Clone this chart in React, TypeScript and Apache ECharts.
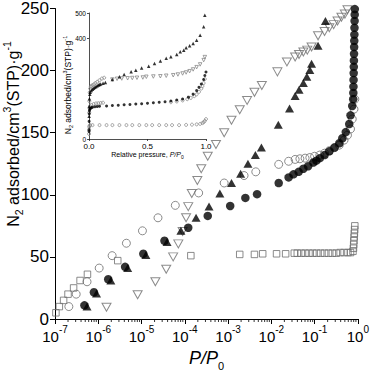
import React, { useEffect, useRef } from "react";
import * as echarts from "echarts";

// ---------- main chart data (P/P0, N2 adsorbed) ----------
const sqP = [1.05e-7, 1.26e-7, 1.58e-7, 2.0e-7, 2.69e-7, 3.8e-7, 5.62e-7, 2.82e-6, 1.38e-4, 1.86e-3, 4.07e-3, 6.31e-3, 0.0132, 0.0214, 0.0339, 0.0398, 0.049, 0.0603, 0.0741, 0.0912, 0.112, 0.138, 0.17, 0.209, 0.257, 0.316, 0.389, 0.479, 0.589, 0.676, 0.77, 0.79, 0.8, 0.81, 0.82, 0.83, 0.84, 0.85];
const sqV = [5, 10, 15, 20, 25, 31, 36, 47, 51, 52, 52, 52.5, 52.5, 52.5, 53, 53, 53, 53, 53, 53, 53, 53, 53, 53, 53, 53, 53.5, 53.5, 53.5, 53.5, 54.5, 57, 60, 63, 66, 69, 72, 75];

const ocP = [2.09e-7, 3.09e-7, 5.5e-7, 1.05e-6, 2.09e-6, 4.47e-6, 1.05e-5, 2.4e-5, 6.03e-5, 2.09e-4, 8.13e-4, 2.34e-3, 4.37e-3, 0.0148, 0.0251, 0.0355, 0.0457, 0.0603, 0.0776, 0.1, 0.132, 0.17, 0.219, 0.288, 0.372, 0.479, 0.575, 0.676, 0.741, 0.813, 0.851];
const ocV = [10, 20, 30, 41, 51, 61, 71, 81.5, 91.5, 101.5, 109.5, 115.5, 118.5, 124.5, 127, 128.5, 129, 129.5, 130, 131, 132, 133.5, 135.5, 138, 140, 144, 148, 153, 161, 169, 177];

const dtP = [1.55e-6, 8.13e-6, 2.09e-5, 3.72e-5, 5.37e-5, 7.08e-5, 8.91e-5, 1.07e-4, 1.2e-4, 1.45e-4, 1.95e-4, 2.4e-4, 3.39e-4, 5.25e-4, 8.13e-4, 1.2e-3, 1.86e-3, 2.75e-3, 4.07e-3, 6.03e-3, 0.0138, 0.0229, 0.0355, 0.0437, 0.055, 0.0676, 0.0851, 0.12, 0.17, 0.219, 0.275, 0.339, 0.417, 0.501, 0.575];
const dtV = [9.5, 19.5, 30, 40, 50, 60.5, 70.5, 81.5, 90.5, 101, 111.5, 121, 131, 140.5, 150, 160, 168.5, 176, 182.5, 188, 199, 207, 211, 213, 215, 216.5, 219, 228, 231.5, 234.5, 237, 240, 243, 245.5, 249];

const ftP = [5.5e-7, 9.12e-7, 1.95e-6, 4.79e-6, 1.26e-5, 3.89e-5, 8.13e-5, 1.82e-4, 3.63e-4, 6.46e-4, 1.2e-3, 1.95e-3, 2.88e-3, 4.27e-3, 5.89e-3, 0.0145, 0.0263, 0.0355, 0.0437, 0.055, 0.0661, 0.0776, 0.0851, 0.12, 0.178];
const ftV = [10, 20.5, 31, 41, 51.5, 62, 71, 81.5, 90.5, 101, 109.5, 117, 125, 132, 138, 156.5, 169.5, 179.5, 184.5, 190, 195, 200.5, 205.5, 220, 240];

const fcP = [4.79e-7, 7.94e-7, 1.7e-6, 4.17e-6, 1.1e-5, 3.39e-5, 1.2e-4, 3.39e-4, 1.12e-3, 2.51e-3, 4.68e-3, 0.0148, 0.0251, 0.0324, 0.0427, 0.055, 0.0708, 0.0933, 0.11, 0.132, 0.17, 0.219, 0.288, 0.372, 0.437, 0.525, 0.631, 0.676, 0.741, 0.78, 0.785, 0.79, 0.795, 0.8, 0.805, 0.81, 0.815, 0.82, 0.825, 0.83, 0.835, 0.84, 0.845, 0.85];
const fcV = [11, 21.5, 32, 42, 52.5, 63, 73.5, 83, 91, 97.5, 100.5, 109.5, 114, 116.5, 118.5, 121, 123, 126, 127.5, 129.5, 132, 135, 138, 141.5, 145.5, 150.5, 157, 164, 171.5, 177, 182, 187, 192.5, 198, 203, 208, 213.5, 219, 224, 229, 234.5, 240, 245, 249.5];

// ---------- inset data (relative pressure, N2 adsorbed) ----------
const inAP = [0.0005, 0.001, 0.002, 0.004, 0.007, 0.01, 0.02, 0.03, 0.04, 0.05, 0.06, 0.07, 0.08, 0.09, 0.1, 0.12, 0.14, 0.2, 0.26, 0.3, 0.36, 0.4, 0.45, 0.51, 0.56, 0.61, 0.66, 0.7, 0.75, 0.78, 0.81, 0.83, 0.86, 0.89, 0.92, 0.95, 0.98, 0.99];
const inAV = [40, 90, 130, 160, 178, 186, 192, 197, 201, 205, 208, 211, 214, 216, 218, 221, 224, 236, 247, 256, 267, 273, 282, 289, 300, 310, 320, 326, 335, 346, 352, 362, 370, 379, 392, 412, 445, 491];

const inB1P = [0.003, 0.006, 0.01, 0.015, 0.02, 0.03, 0.043, 0.055, 0.07, 0.09, 0.11, 0.13];
const inB1V = [150, 185, 200, 207, 210, 214, 217, 222, 227, 233, 240, 243];

const inB2P = [0.2, 0.24, 0.28, 0.33, 0.37, 0.41, 0.46, 0.49, 0.55, 0.61, 0.66, 0.72, 0.76, 0.8, 0.83, 0.86, 0.89, 0.92, 0.95, 0.98, 0.99];
const inB2V = [236, 239, 240, 241, 242, 243, 244, 247, 248, 249, 251, 253, 256, 260, 264, 269, 276, 285, 296, 313, 325];

const inCP = [0.0005, 0.001, 0.002, 0.004, 0.007, 0.01, 0.02, 0.03, 0.05, 0.07, 0.09, 0.15, 0.2, 0.25, 0.3, 0.35, 0.4, 0.45, 0.5, 0.55, 0.6, 0.65, 0.7, 0.75, 0.8, 0.85, 0.89, 0.92, 0.94, 0.96, 0.98, 0.99, 1.0];
const inCV = [30, 70, 100, 112, 118, 121, 124, 126, 128, 129, 130, 131, 133, 134, 136, 137, 139, 140, 142, 144, 146, 148, 151, 155, 159, 166, 178, 192, 205, 218, 236, 252, 266];

const inDP = [0.002, 0.005, 0.01, 0.02, 0.04, 0.06, 0.08, 0.1, 0.12, 0.7, 0.75, 0.8, 0.84, 0.87, 0.9, 0.92, 0.94, 0.96, 0.97, 0.98, 0.99];
const inDV = [105, 122, 130, 135, 139, 141, 142, 143, 144, 146, 149, 153, 158, 163, 170, 177, 187, 200, 210, 222, 238];

const inEP = [0.0005, 0.001, 0.002, 0.005, 0.01, 0.03, 0.09, 0.15, 0.2, 0.26, 0.32, 0.37, 0.43, 0.49, 0.54, 0.6, 0.66, 0.71, 0.77, 0.83, 0.88, 0.92, 0.95, 0.97, 0.98, 0.99, 1.0];
const inEV = [20, 38, 48, 53, 55, 55, 55, 55, 55, 55, 55, 55, 55, 55, 55, 55, 55, 55, 55, 56, 57, 58, 60, 63, 67, 72, 79];

// ---------- axis decoration ----------
const decades = [1e-7, 1e-6, 1e-5, 1e-4, 1e-3, 1e-2, 1e-1];
const minorMultipliers = [2, 3, 4, 5, 6, 7, 8, 9];
const minorTickP: number[] = [];
decades.forEach((d) => minorMultipliers.forEach((m) => minorTickP.push(d * m)));

const FONT = "Liberation Sans, Arial, sans-serif";
const GRAY = "#6e6e6e";
const IGRAY = "#8a8a8a";

const zip = (p: number[], v: number[]) => p.map((x, i) => [x, v[i]]);

export default function App() {
  const ref = useRef<HTMLDivElement>(null);
  useEffect(() => {
    if (!ref.current) return;
    const chart = echarts.init(ref.current, undefined, { renderer: "svg" });
    const openStyle = (c: string) => ({ color: "rgba(0,0,0,0)", borderColor: c, borderWidth: 1 });
    const option: any = {
      animation: false,
      textStyle: { fontFamily: FONT },
      grid: [
        { left: 55, top: 7, width: 308, height: 318 },
        { left: 89, top: 13, width: 117, height: 126 },
      ],
      xAxis: [
        {
          type: "log",
          logBase: 10,
          min: 1e-7,
          max: 1,
          gridIndex: 0,
          axisLine: { show: true, lineStyle: { color: "#000", width: 1 } },
          axisTick: { show: true, length: 5, lineStyle: { color: "#000" } },
          splitLine: { show: false },
          axisLabel: {
            margin: 5,
            formatter: (v: number) => `{b|10}{s|${Math.round(Math.log10(v))}}`,
            rich: {
              b: { fontSize: 15, lineHeight: 20, verticalAlign: "bottom", color: "#000", fontFamily: FONT },
              s: { fontSize: 10, lineHeight: 12, verticalAlign: "top", color: "#000", fontFamily: FONT },
            },
          },
          name: "{i|P/P}{s|0}",
          nameLocation: "middle",
          nameGap: 30,
          nameTextStyle: {
            rich: {
              i: { fontSize: 18, lineHeight: 22, fontStyle: "italic", color: "#000", fontFamily: FONT, verticalAlign: "top" },
              s: { fontSize: 11, lineHeight: 11, verticalAlign: "bottom", color: "#000", fontFamily: FONT },
            },
          },
        },
        {
          type: "value",
          min: 0,
          max: 1,
          interval: 0.5,
          gridIndex: 1,
          axisLine: { show: true, lineStyle: { color: "#222", width: 0.8 } },
          axisTick: { show: true, length: 2, lineStyle: { color: "#222", width: 0.8 } },
          splitLine: { show: false },
          axisLabel: { fontSize: 8, margin: 3, color: "#000", formatter: (v: number) => v.toFixed(1) },
          name: "{t|Relative pressure, }{i|P/P}{s|0}",
          nameLocation: "middle",
          nameGap: 11,
          nameTextStyle: {
            rich: {
              t: { fontSize: 7, lineHeight: 9, color: "#000", fontFamily: FONT, verticalAlign: "top" },
              i: { fontSize: 7, lineHeight: 9, fontStyle: "italic", color: "#000", fontFamily: FONT, verticalAlign: "top" },
              s: { fontSize: 5, lineHeight: 5, verticalAlign: "bottom", color: "#000", fontFamily: FONT },
            },
          },
        },
      ],
      yAxis: [
        {
          type: "value",
          min: 0,
          max: 250,
          interval: 50,
          gridIndex: 0,
          axisLine: { show: true, lineStyle: { color: "#000", width: 1 } },
          axisTick: { show: true, length: 5, lineStyle: { color: "#000" } },
          splitLine: { show: false },
          axisLabel: { fontSize: 17, margin: 6, color: "#000" },
        },
        {
          type: "value",
          min: 0,
          max: 500,
          interval: 400,
          gridIndex: 1,
          axisLine: { show: true, lineStyle: { color: "#222", width: 0.8 } },
          axisTick: { show: true, length: 2, lineStyle: { color: "#222", width: 0.8 } },
          splitLine: { show: false },
          axisLabel: { fontSize: 6.5, margin: 3, color: "#000", padding: [0, 0, 4, 0] },
        },
      ],
      graphic: [
        {
          type: "text",
          x: 13,
          y: 134,
          rotation: Math.PI / 2,
          style: {
            text: "{t|N}{sub|2}{t| adsorbed/cm}{sup|3}{t|(STP)·g}{sup|-1}",
            align: "center",
            verticalAlign: "middle",
            rich: {
              t: { fontSize: 16, lineHeight: 23, fill: "#000", fontFamily: FONT, verticalAlign: "middle" },
              sub: { fontSize: 10.5, lineHeight: 10.5, fill: "#000", fontFamily: FONT, verticalAlign: "bottom" },
              sup: { fontSize: 10.5, lineHeight: 10.5, fill: "#000", fontFamily: FONT, verticalAlign: "top" },
            },
          },
        },
        {
          type: "text",
          x: 68,
          y: 85,
          rotation: Math.PI / 2,
          style: {
            text: "{t|N}{sub|2}{t| adsorbed/cm}{sup|3}{t|(STP)·g}{sup|-1}",
            align: "center",
            verticalAlign: "middle",
            rich: {
              t: { fontSize: 8.5, lineHeight: 12, fill: "#000", fontFamily: FONT, verticalAlign: "middle" },
              sub: { fontSize: 5.5, lineHeight: 5.5, fill: "#000", fontFamily: FONT, verticalAlign: "bottom" },
              sup: { fontSize: 5.5, lineHeight: 5.5, fill: "#000", fontFamily: FONT, verticalAlign: "top" },
            },
          },
        },
      ],
      series: [
        {
          name: "minor ticks",
          type: "scatter",
          xAxisIndex: 0,
          yAxisIndex: 0,
          data: minorTickP.map((p) => [p, 0]),
          symbol: "rect",
          symbolSize: [1, 3],
          symbolOffset: [0, 1.5],
          itemStyle: { color: "#000" },
          silent: true,
          clip: false,
          z: 1,
        },
        {
          name: "open squares",
          type: "scatter",
          xAxisIndex: 0,
          yAxisIndex: 0,
          data: zip(sqP, sqV),
          symbol: "rect",
          symbolSize: 6.5,
          itemStyle: openStyle(GRAY),
        },
        {
          name: "open circles",
          type: "scatter",
          xAxisIndex: 0,
          yAxisIndex: 0,
          data: zip(ocP, ocV),
          symbol: "circle",
          symbolSize: 8,
          itemStyle: openStyle(GRAY),
        },
        {
          name: "open triangles",
          type: "scatter",
          xAxisIndex: 0,
          yAxisIndex: 0,
          data: zip(dtP, dtV),
          symbol: "triangle",
          symbolRotate: 180,
          symbolSize: [9, 8],
          itemStyle: openStyle(GRAY),
        },
        {
          name: "filled triangles",
          type: "scatter",
          xAxisIndex: 0,
          yAxisIndex: 0,
          data: zip(ftP, ftV),
          symbol: "triangle",
          symbolSize: [9, 8],
          itemStyle: { color: "#000" },
        },
        {
          name: "filled circles",
          type: "scatter",
          xAxisIndex: 0,
          yAxisIndex: 0,
          data: zip(fcP, fcV),
          symbol: "circle",
          symbolSize: 8.5,
          itemStyle: { color: "#000" },
        },
        {
          name: "inset E",
          type: "scatter",
          xAxisIndex: 1,
          yAxisIndex: 1,
          data: zip(inEP, inEV),
          symbol: "circle",
          symbolSize: 3,
          itemStyle: openStyle(IGRAY),
        },
        {
          name: "inset D",
          type: "scatter",
          xAxisIndex: 1,
          yAxisIndex: 1,
          data: zip(inDP, inDV),
          symbol: "circle",
          symbolSize: 3,
          itemStyle: openStyle(IGRAY),
        },
        {
          name: "inset B1",
          type: "scatter",
          xAxisIndex: 1,
          yAxisIndex: 1,
          data: zip(inB1P, inB1V),
          symbol: "circle",
          symbolSize: 3,
          itemStyle: openStyle(IGRAY),
        },
        {
          name: "inset B2",
          type: "scatter",
          xAxisIndex: 1,
          yAxisIndex: 1,
          data: zip(inB2P, inB2V),
          symbol: "triangle",
          symbolRotate: 180,
          symbolSize: 3.5,
          itemStyle: openStyle(IGRAY),
        },
        {
          name: "inset C",
          type: "scatter",
          xAxisIndex: 1,
          yAxisIndex: 1,
          data: zip(inCP, inCV),
          symbol: "circle",
          symbolSize: 3,
          itemStyle: { color: "#000" },
        },
        {
          name: "inset A",
          type: "scatter",
          xAxisIndex: 1,
          yAxisIndex: 1,
          data: zip(inAP, inAV),
          symbol: "triangle",
          symbolSize: 3.5,
          itemStyle: { color: "#000" },
        },
      ],
    };
    chart.setOption(option);
    return () => chart.dispose();
  }, []);
  return (
    <div
      ref={ref}
      style={{ position: "fixed", left: 0, top: 0, width: 372, height: 376, background: "#fff" }}
    />
  );
}
